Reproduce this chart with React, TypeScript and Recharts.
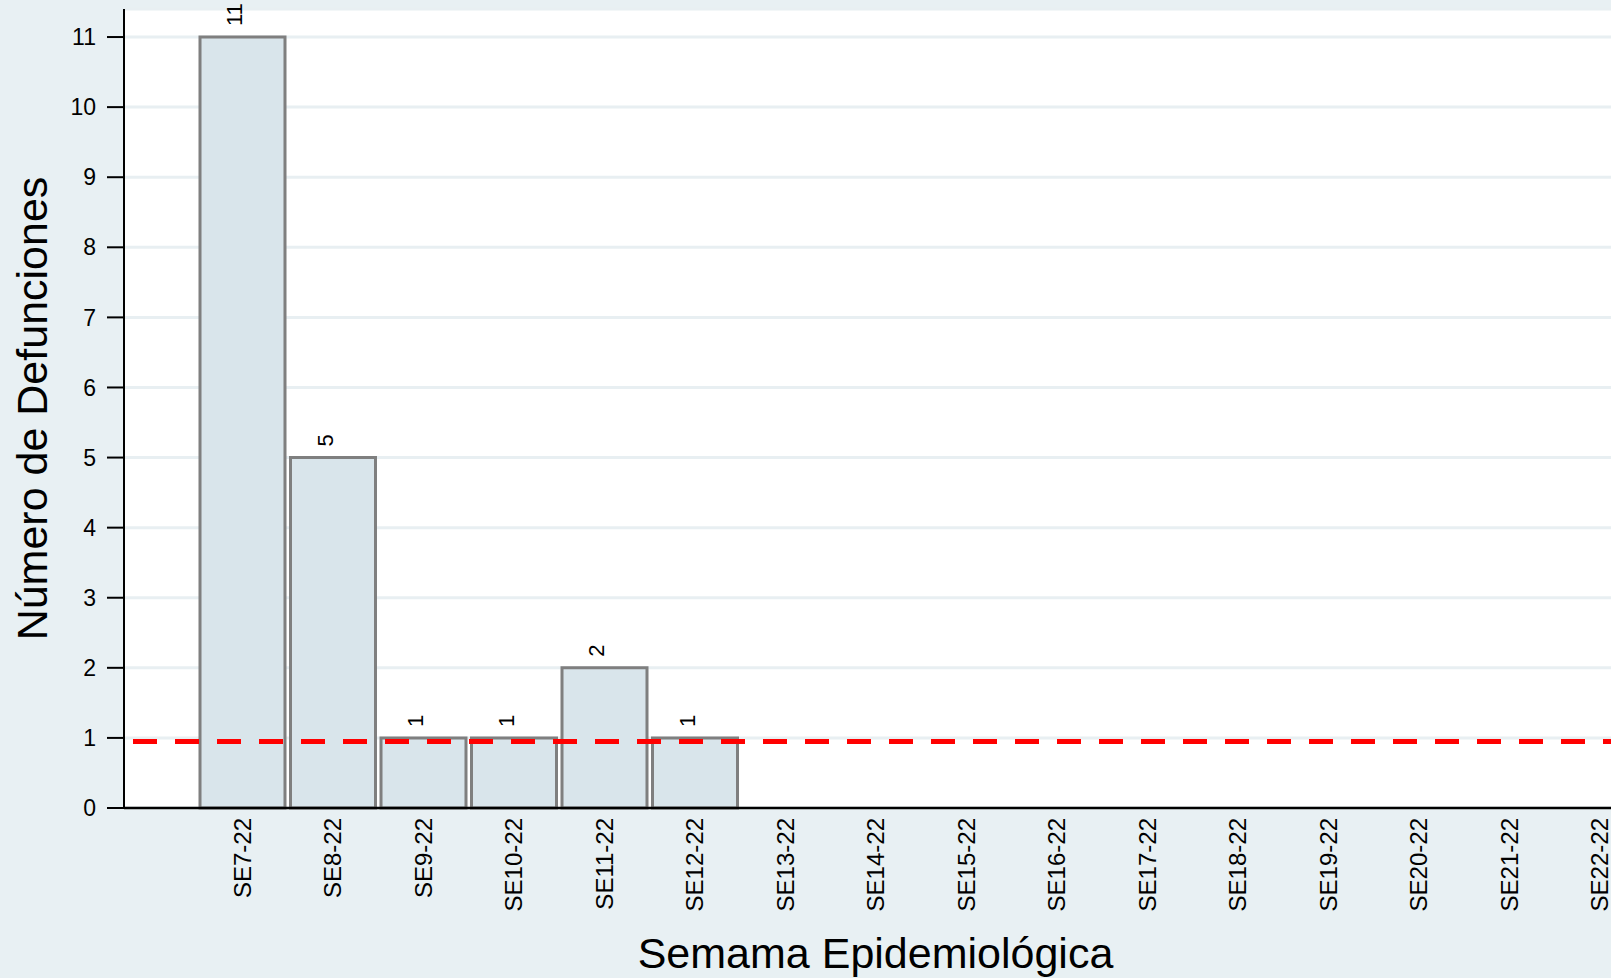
import {
  Bar,
  BarChart,
  CartesianGrid,
  LabelList,
  ReferenceLine,
  XAxis,
  YAxis,
} from "recharts";

// semanas epidemiológicas y defunciones por semana
const semanas = [
  "SE7-22",
  "SE8-22",
  "SE9-22",
  "SE10-22",
  "SE11-22",
  "SE12-22",
  "SE13-22",
  "SE14-22",
  "SE15-22",
  "SE16-22",
  "SE17-22",
  "SE18-22",
  "SE19-22",
  "SE20-22",
  "SE21-22",
  "SE22-22",
];
const defunciones: (number | null)[] = [
  11, 5, 1, 1, 2, 1, null, null, null, null, null, null, null, null, null, null,
];
const yTicks = [0, 1, 2, 3, 4, 5, 6, 7, 8, 9, 10, 11];
const umbral = 0.95;

const data = semanas.map((semana, i) => ({ semana, defunciones: defunciones[i] }));

const FONT = "'Liberation Sans', Arial, Helvetica, sans-serif";

function SemanaTick({ x, y, payload }: any) {
  return (
    <g transform={`translate(${x},${y}) rotate(-90)`}>
      <text x={0} y={0} dy="0.36em" textAnchor="end" fontSize={24} fill="#000" fontFamily={FONT}>
        {payload.value}
      </text>
    </g>
  );
}

function ValorLabel({ x, y, width, value }: any) {
  if (!value) return null;
  const cx = x + width / 2;
  const ty = y - 11;
  return (
    <text
      x={cx}
      y={ty}
      transform={`rotate(-90, ${cx}, ${ty})`}
      textAnchor="start"
      fontSize={22}
      fill="#000"
      fontFamily={FONT}
    >
      {value}
    </text>
  );
}

function YTitle({ viewBox }: any) {
  const cx = viewBox.x + 47;
  const cy = viewBox.y + viewBox.height / 2;
  return (
    <text
      x={cx}
      y={cy}
      transform={`rotate(-90, ${cx}, ${cy})`}
      textAnchor="middle"
      fontSize={43}
      fill="#000"
      fontFamily={FONT}
    >
      Número de Defunciones
    </text>
  );
}

function XTitle({ viewBox }: any) {
  return (
    <text
      x={viewBox.x + viewBox.width / 2 - 9}
      y={viewBox.y + 160}
      textAnchor="middle"
      fontSize={43}
      fill="#000"
      fontFamily={FONT}
    >
      Semama Epidemiológica
    </text>
  );
}

export default function App() {
  return (
    <div
      style={{
        position: "fixed",
        left: 0,
        top: 0,
        width: 1611,
        height: 978,
        overflow: "hidden",
        background: "#e8f0f3",
        fontFamily: FONT,
      }}
    >
      <BarChart
        width={1645}
        height={978}
        data={data}
        margin={{ top: 9, right: 0, bottom: 0, left: 0 }}
        barCategoryGap={3}
      >
        <CartesianGrid vertical={false} fill="#ffffff" stroke="#e8eff2" strokeWidth={3} />

        <XAxis
          dataKey="semana"
          height={170}
          interval={0}
          padding={{ left: 73, right: 0 }}
          tickLine={false}
          tickSize={0}
          tickMargin={10}
          axisLine={{ stroke: "#000", strokeWidth: 2.5 }}
          tick={<SemanaTick />}
          label={{ content: <XTitle /> }}
        />

        <YAxis
          width={124}
          domain={[0, 11.4]}
          ticks={yTicks}
          interval={0}
          tickSize={17}
          tickMargin={11}
          axisLine={{ stroke: "#000", strokeWidth: 2 }}
          tickLine={{ stroke: "#000", strokeWidth: 2 }}
          tick={{ fontSize: 23, fill: "#000", fontFamily: FONT }}
          label={{ content: <YTitle /> }}
        />

        {/* barras de defunciones */}
        <Bar
          dataKey="defunciones"
          fill="#d9e5eb"
          stroke="#7f7f7f"
          strokeWidth={3}
          isAnimationActive={false}
        >
          <LabelList dataKey="defunciones" content={<ValorLabel />} />
        </Bar>

        {/* umbral */}
        <ReferenceLine
          y={umbral}
          stroke="#ff0000"
          strokeWidth={5}
          strokeDasharray="24 18"
          strokeDashoffset={33}
        />
      </BarChart>
    </div>
  );
}
